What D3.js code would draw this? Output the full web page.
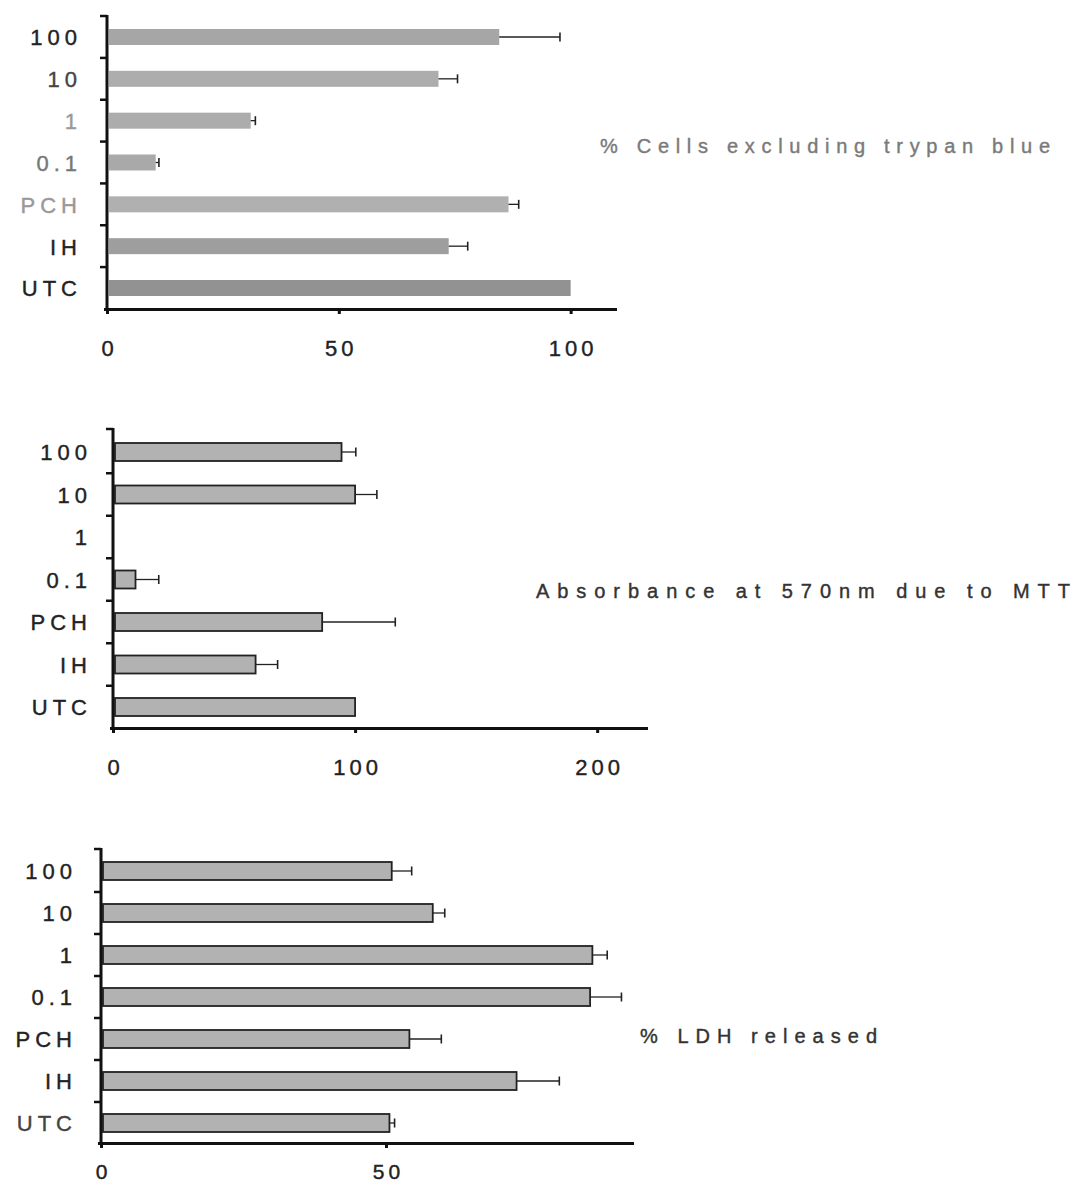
<!DOCTYPE html>
<html>
<head>
<meta charset="utf-8">
<script src="https://cdn.jsdelivr.net/npm/d3@7/dist/d3.min.js"></script>
<style>
  html, body { margin: 0; padding: 0; background: #fff; }
  svg { display: block; font-family: "Liberation Sans", Arial, Helvetica, sans-serif; }
</style>
</head>
<body>
<svg id="chart" width="1074" height="1190"></svg>
<script>
// ---- data ----
const categories = ["100", "10", "1", "0.1", "PCH", "IH", "UTC"];

const trypanValues = [84.6, 71.5, 31, 10.5, 86.6, 73.7, 100];
const trypanErrors = [13.1, 4.1, 1, 0.7, 2.2, 4.1, 0];
const trypanTicks = [0, 50, 100];
const trypanTitle = "% Cells excluding trypan blue";

const mttValues = [94.4, 100, 0, 9.3, 86.4, 58.9, 100];
const mttErrors = [5.9, 9, 0, 9.6, 30.2, 9.1, 0];
const mttTicks = [0, 100, 200];
const mttTitle = "Absorbance at 570nm due to MTT";

const ldhValues = [51, 58.2, 86.2, 85.8, 54.1, 72.9, 50.6];
const ldhErrors = [3.5, 2.1, 2.6, 5.5, 5.6, 7.5, 0.9];
const ldhTicks = [0, 50];
const ldhTitle = "% LDH released";

// ---- drawing ----
const svg = d3.select("#chart");

function drawChart(cfg) {
  const g = svg.append("g");
  const x = d3.scaleLinear().domain([0, cfg.max]).range([cfg.x0, cfg.x1]);
  const y = d3.scalePoint().domain(categories).range([cfg.cTop, cfg.cBottom]);
  const step = y.step();

  // bars
  g.selectAll("rect.bar")
    .data(categories.map((c, i) => ({ c, v: cfg.values[i], e: cfg.errors[i], i })))
    .enter().filter(d => d.v > 0)
    .append("rect")
    .attr("x", x(0) + 2)
    .attr("y", d => y(d.c) - cfg.barH / 2)
    .attr("width", d => x(d.v) - x(0) - 2)
    .attr("height", cfg.barH)
    .attr("fill", d => (cfg.fills ? cfg.fills[d.i] : cfg.fill))
    .attr("stroke", cfg.outline ? "#222" : "none")
    .attr("stroke-width", cfg.outline ? 1.8 : 0);

  // error bars
  const errs = categories.map((c, i) => ({ c, v: cfg.values[i], e: cfg.errors[i] })).filter(d => d.e > 0);
  g.selectAll("line.err").data(errs).enter().append("line")
    .attr("x1", d => x(d.v)).attr("x2", d => x(d.v + d.e))
    .attr("y1", d => y(d.c)).attr("y2", d => y(d.c))
    .attr("stroke", "#222").attr("stroke-width", 1.3);
  g.selectAll("line.cap").data(errs).enter().append("line")
    .attr("x1", d => x(d.v + d.e)).attr("x2", d => x(d.v + d.e))
    .attr("y1", d => y(d.c) - 4.5).attr("y2", d => y(d.c) + 4.5)
    .attr("stroke", "#222").attr("stroke-width", 1.6);

  // x axis
  const xa = g.append("g")
    .attr("transform", `translate(0,${cfg.yBottom})`)
    .call(d3.axisBottom(x).tickValues(cfg.ticks).tickSize(5).tickSizeOuter(0).tickPadding(cfg.xPad));
  xa.select(".domain").attr("stroke", "#111").attr("stroke-width", 3)
    .attr("d", `M${cfg.x0 - 3},0.5H${cfg.x1}`);
  xa.selectAll(".tick line").attr("stroke", "#111").attr("stroke-width", 3);
  xa.selectAll(".tick text").attr("fill", "#222").style("font-size", `${cfg.xFont}px`)
    .attr("stroke", "#222").attr("stroke-width", 0.4)
    .style("letter-spacing", "4px").attr("dx", "2px");

  // y axis (labels)
  const ya = g.append("g")
    .attr("transform", `translate(${cfg.x0},0)`)
    .call(d3.axisLeft(y).tickSize(0).tickPadding(cfg.yPad));
  ya.select(".domain").attr("stroke", "#111").attr("stroke-width", 3)
    .attr("d", `M0,${cfg.yTop}V${cfg.yBottom + 1.5}`);
  const lc = (d, i) => (cfg.labelColors ? cfg.labelColors[i] : "#222");
  ya.selectAll(".tick text")
    .attr("fill", lc).attr("stroke", lc).attr("stroke-width", 0.4)
    .attr("dy", "0.36em")
    .style("font-size", "22px").style("letter-spacing", "5px");

  // minor ticks between categories
  const mids = [cfg.yTop + 1].concat(categories.slice(1).map(c => y(c) - step / 2));
  g.selectAll("line.minor").data(mids).enter().append("line")
    .attr("x1", cfg.x0 - 7).attr("x2", cfg.x0)
    .attr("y1", d => d).attr("y2", d => d)
    .attr("stroke", "#111").attr("stroke-width", 2.5);

  // title
  g.append("text")
    .attr("x", cfg.titleX).attr("y", cfg.titleY)
    .attr("fill", cfg.titleColor).attr("stroke", cfg.titleColor).attr("stroke-width", 0.4)
    .attr("textLength", cfg.titleLen).attr("lengthAdjust", "spacing")
    .style("font-size", "20px")
    .text(cfg.title);
}

drawChart({
  values: trypanValues, errors: trypanErrors, ticks: trypanTicks, max: 110,
  x0: 107, x1: 617, yTop: 15, yBottom: 309, cTop: 37, cBottom: 288,
  barH: 16, fill: "#a9a9a9",
  fills: ["#a6a6a6", "#adadad", "#acacac", "#a9a9a9", "#b0b0b0", "#9e9e9e", "#929292"],
  outline: false, xPad: 26, yPad: 25, xFont: 22,
  labelColors: ["#222", "#444", "#999", "#777", "#999", "#222", "#222"],
  title: trypanTitle, titleX: 600, titleY: 153, titleLen: 450, titleColor: "#7a7a7a"
});

drawChart({
  values: mttValues, errors: mttErrors, ticks: mttTicks, max: 221,
  x0: 113, x1: 648, yTop: 428, yBottom: 728, cTop: 452, cBottom: 707,
  barH: 18, fill: "#b2b2b2",
  outline: true, xPad: 26, yPad: 21, xFont: 22,
  title: mttTitle, titleX: 536, titleY: 598, titleLen: 534, titleColor: "#333"
});

drawChart({
  values: ldhValues, errors: ldhErrors, ticks: ldhTicks, max: 93.5,
  x0: 101, x1: 634, yTop: 848, yBottom: 1143, cTop: 871, cBottom: 1123,
  barH: 18, fill: "#b2b2b2",
  outline: true, xPad: 16, yPad: 24, xFont: 21,
  labelColors: ["#222", "#222", "#222", "#222", "#222", "#222", "#444"],
  title: ldhTitle, titleX: 640, titleY: 1043, titleLen: 237, titleColor: "#333"
});
</script>
</body>
</html>
